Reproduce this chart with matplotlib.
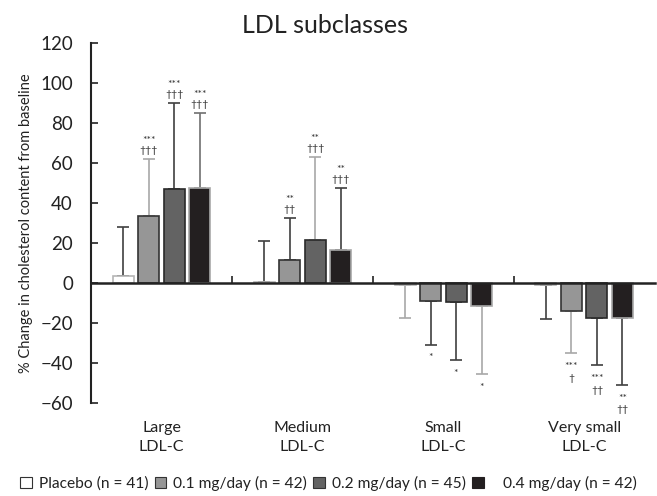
import numpy as np
import matplotlib
matplotlib.use("Agg")
import matplotlib.pyplot as plt
from matplotlib.patches import Patch
from matplotlib.transforms import blended_transform_factory

plt.rcParams['font.family'] = ['Lato', 'DejaVu Sans']

# data
categories = ["Large\nLDL-C", "Medium\nLDL-C", "Small\nLDL-C", "Very small\nLDL-C"]
groups = ["Placebo (n = 41)", "0.1 mg/day (n = 42)", "0.2 mg/day (n = 45)", "   0.4 mg/day (n = 42)"]

placebo = [3.5, 0.5, -1.2, -1.2]
dose_01 = [33.5, 11.5, -9.2, -13.8]
dose_02 = [47.0, 21.5, -9.5, -17.7]
dose_04 = [47.5, 16.5, -11.5, -17.7]

sd_placebo = [24.5, 20.5, 16.3, 16.8]
sd_01 = [28.5, 21.0, 21.6, 21.2]
sd_02 = [43.0, 41.5, 29.0, 23.3]
sd_04 = [37.5, 31.0, 34.0, 33.3]

stars_01 = ["***", "**", "*", "***"]
stars_02 = ["***", "**", "*", "***"]
stars_04 = ["***", "**", "*", "**"]
dagger_01 = ["\u2020\u2020\u2020", "\u2020\u2020", "", "\u2020"]
dagger_02 = ["\u2020\u2020\u2020", "\u2020\u2020\u2020", "", "\u2020\u2020"]
dagger_04 = ["\u2020\u2020\u2020", "\u2020\u2020\u2020", "", "\u2020\u2020"]

means = [placebo, dose_01, dose_02, dose_04]
sds = [sd_placebo, sd_01, sd_02, sd_04]
stars = [None, stars_01, stars_02, stars_04]
daggers = [None, dagger_01, dagger_02, dagger_04]

face = ["white", "#969696", "#636363", "#231f20"]
edge = ["#b5b5b5", "#333333", "#2a2a2a", "#a8a8a8"]
light, dark, mid = "#a8a8a8", "#404040", "#707070"
err_cols = [[dark, dark, light, dark],
            [light, dark, dark, light],
            [dark, light, dark, dark],
            [mid, dark, light, dark]]

fig = plt.figure(figsize=(6.57, 4.96), dpi=100)
ax = fig.add_axes([0.1385, 0.1875, 0.858, 0.7255])

x = np.arange(len(categories))
width = 0.149
step = 0.181

for i in range(4):
    xs = x + (i - 1.5) * step
    m = np.array(means[i])
    s = np.array(sds[i])
    ax.bar(xs, m, width, color=face[i], edgecolor=edge[i], linewidth=1.2, zorder=2)
    for j in range(len(x)):
        lo = s[j] if m[j] < 0 else 0
        hi = s[j] if m[j] >= 0 else 0
        ax.errorbar(xs[j], m[j], yerr=[[lo], [hi]], fmt="none",
                    ecolor=err_cols[i][j], elinewidth=1.2, capsize=4, capthick=1.2, zorder=1)
        if stars[i] is None or not stars[i][j]:
            continue
        end = m[j] + (s[j] if m[j] >= 0 else -s[j])
        if m[j] >= 0:
            ax.text(xs[j], end + 9.5, stars[i][j], ha="center", va="center", fontsize=7.5, color="#333333")
            ax.text(xs[j], end + 4.5, daggers[i][j], ha="center", va="center", fontsize=7.5, color="#333333")
        else:
            ax.text(xs[j], end - 6.5, stars[i][j], ha="center", va="center", fontsize=7.5, color="#333333")
            if daggers[i][j]:
                ax.text(xs[j], end - 12.5, daggers[i][j], ha="center", va="center", fontsize=7.5, color="#333333")

ax.set_xlim(-0.5, 3.5)
ax.set_ylim(-60, 120)
ax.set_yticks(range(-60, 121, 20))
ax.tick_params(axis="y", direction="in", length=5, width=1.2, labelsize=13.5, pad=13, colors="#222222")
ax.spines["left"].set_linewidth(1.5)
ax.spines["left"].set_color("#222222")
ax.spines["top"].set_visible(False)
ax.spines["right"].set_visible(False)
ax.spines["bottom"].set_position(("data", 0))
ax.spines["bottom"].set_linewidth(1.8)
ax.spines["bottom"].set_color("#222222")
ax.set_xticks([])
ax.set_xticks(x[:-1] + 0.5, minor=True)
ax.tick_params(axis="x", which="minor", direction="in", length=5, width=1.2, colors="#222222")

tr = blended_transform_factory(ax.transData, ax.transAxes)
for xi, lab in zip(x, categories):
    ax.text(xi, -0.05, lab, transform=tr, ha="center", va="top", fontsize=11.5,
            color="#222222", linespacing=1.45)

ax.set_ylabel("% Change in cholesterol content from baseline", fontsize=10.5, color="#222222", labelpad=5)
fig.text(0.495, 0.948, "LDL subclasses", ha="center", va="center", fontsize=18, color="#222222")

handles = [Patch(facecolor=face[i], edgecolor="#333333" if i < 3 else face[i], linewidth=0.8)
           for i in range(4)]
fig.legend(handles, groups, loc="center", bbox_to_anchor=(0.5, 0.026), ncol=4, frameon=False,
           fontsize=11.2, handlelength=0.75, handleheight=0.75, handletextpad=0.45,
           columnspacing=0.4, borderpad=0.1, labelcolor="#222222")

fig.savefig("out.png", dpi=100)
